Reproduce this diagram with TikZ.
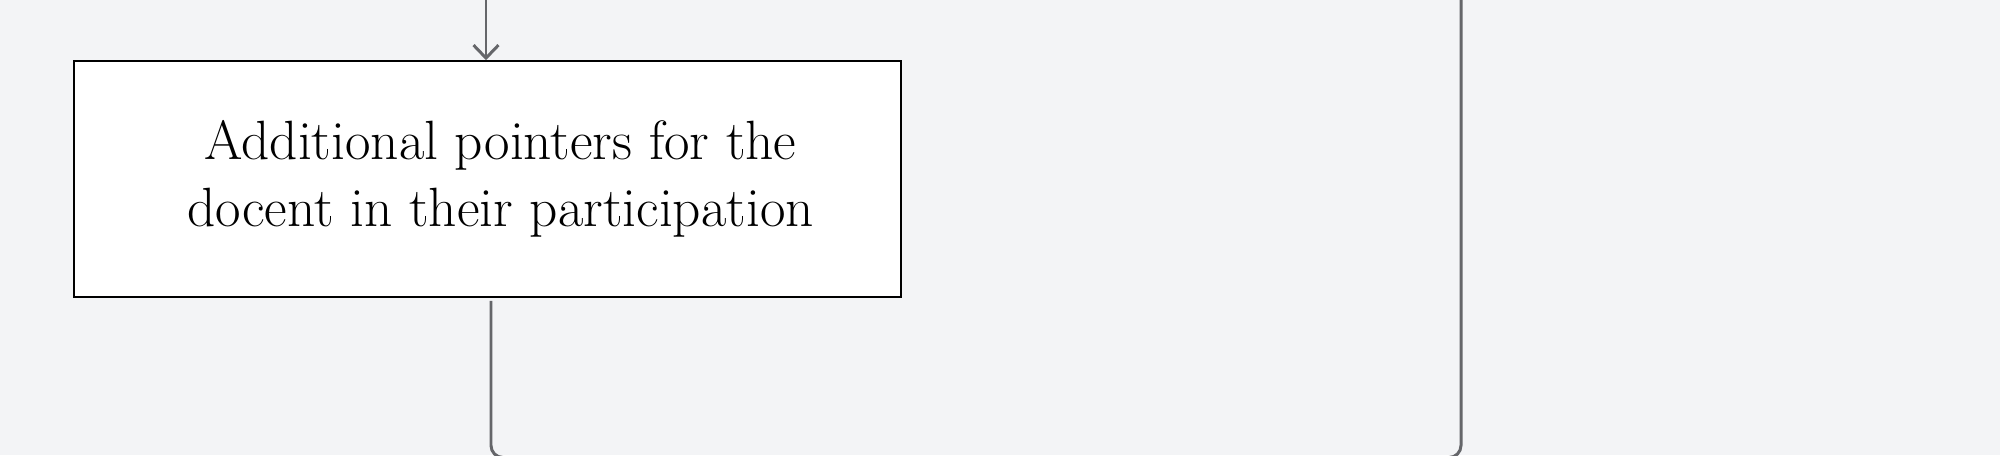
\documentclass[tikz,border=0pt]{standalone}
\usepackage{tikz}
\usetikzlibrary{arrows.meta}
\usetikzlibrary{calc}
\usetikzlibrary{positioning}
\definecolor{pagebg}{HTML}{F3F4F6}
\definecolor{linkgray}{HTML}{65666A}
\tikzstyle{arrow} = [draw=linkgray,line width=0.85pt,-{Straight Barb[length=1.3mm,width=2.5mm]}]
\tikzstyle{link} = [draw=linkgray,line width=0.85pt,rounded corners=1.2mm]
\tikzstyle{stepbox} = [draw=black,fill=white,line width=0.45pt,minimum width=8.27cm,minimum height=2.36cm,align=center,font=\fontsize{15.75}{19}\selectfont]

\begin{document}
\begin{tikzpicture}
\fill[pagebg] (0,0) rectangle (20,-4.55);
\useasboundingbox (0,0) rectangle (20,-4.55);
\node[stepbox] (pointers) at (4.875,-1.79) {\hspace*{0.26cm}Additional pointers for the\\\hspace*{0.26cm}docent in their participation};
\coordinate (intop) at (4.86,0.05);
\coordinate (loopdown) at (4.91,-4.575);
\coordinate (loopright) at (14.61,-4.575);
\coordinate (looptop) at (14.61,0.05);
\draw[arrow] (intop) -- (pointers.north -| intop);
\draw[link] ($(pointers.south -| loopdown)+(0,-0.03)$) -- (loopdown) -- (loopright) -- (looptop);
\end{tikzpicture}
\end{document}
